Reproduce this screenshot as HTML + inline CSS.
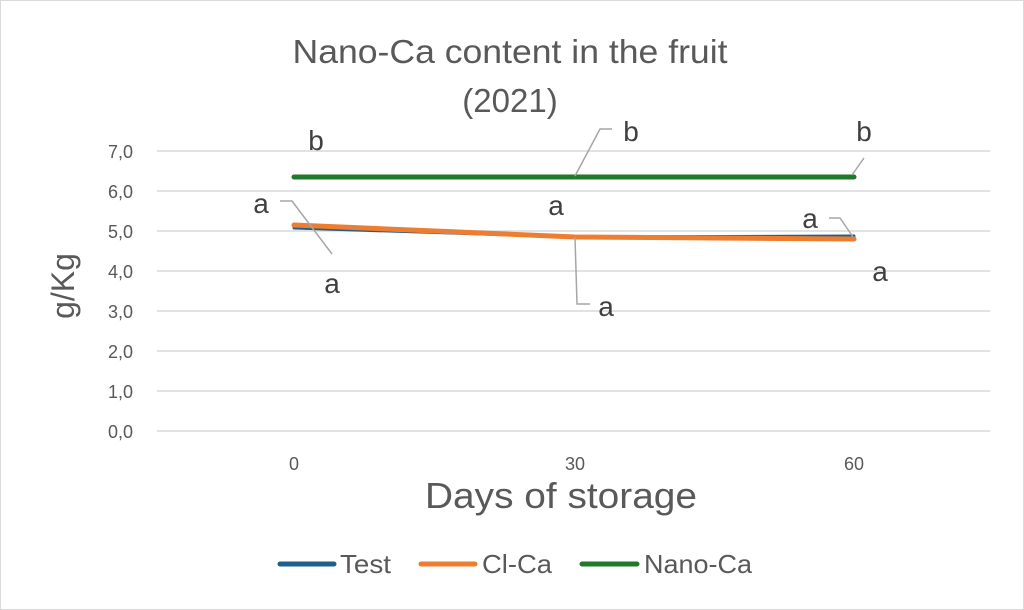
<!DOCTYPE html>
<html><head><meta charset="utf-8"><style>
html,body{margin:0;padding:0;background:#fff;}
svg{display:block;font-family:"Liberation Sans",sans-serif;}
</style></head><body>
<svg width="1024" height="610" viewBox="0 0 1024 610">
<rect x="0.5" y="0.5" width="1023" height="609" fill="#fff" stroke="#d9d9d9"/>
<text x="510" y="63" font-size="33" fill="#595959" text-anchor="middle" textLength="435" lengthAdjust="spacingAndGlyphs">Nano-Ca content in the fruit</text>
<text x="510" y="112" font-size="33" fill="#595959" text-anchor="middle">(2021)</text>
<g stroke="#d9d9d9" stroke-width="1.5">
<line x1="157" x2="990" y1="151" y2="151"/><line x1="157" x2="990" y1="191" y2="191"/>
<line x1="157" x2="990" y1="231" y2="231"/><line x1="157" x2="990" y1="271" y2="271"/>
<line x1="157" x2="990" y1="311" y2="311"/><line x1="157" x2="990" y1="351" y2="351"/>
<line x1="157" x2="990" y1="391" y2="391"/><line x1="157" x2="990" y1="431" y2="431"/>
</g>
<g font-size="18" fill="#595959" text-anchor="end">
<text x="133" y="158">7,0</text><text x="133" y="198">6,0</text><text x="133" y="238">5,0</text>
<text x="133" y="278">4,0</text><text x="133" y="318">3,0</text><text x="133" y="358">2,0</text>
<text x="133" y="398">1,0</text><text x="133" y="438">0,0</text>
</g>
<g font-size="18" fill="#595959" text-anchor="middle">
<text x="294" y="470">0</text><text x="575" y="470">30</text><text x="854" y="470">60</text>
</g>
<text x="561" y="508" font-size="36" fill="#595959" text-anchor="middle" textLength="272" lengthAdjust="spacingAndGlyphs">Days of storage</text>
<text transform="translate(74,286) rotate(-90)" font-size="32" fill="#595959" text-anchor="middle">g/Kg</text>
<polyline points="294,177 854,177" fill="none" stroke="#217a2b" stroke-width="5" stroke-linecap="round"/>
<polyline points="294,228 575,237 854,236" fill="none" stroke="#1f5f8b" stroke-width="3" stroke-linecap="round"/>
<polyline points="294,225 575,237 854,239" fill="none" stroke="#ed7d31" stroke-width="5" stroke-linecap="round"/>
<g stroke="#a6a6a6" stroke-width="1.5" fill="none">
<polyline points="280,201 292,201 332,254"/>
<polyline points="575,176 600,129 612,129"/>
<polyline points="575,237 577,304 590,304"/>
<polyline points="852,175 864,158"/>
<polyline points="829,218 840,218 853,237"/>
</g>
<g font-size="28" fill="#404040" text-anchor="middle">
<text x="316" y="150">b</text><text x="631" y="141">b</text><text x="864" y="141">b</text>
<text x="261" y="213">a</text><text x="556" y="215">a</text><text x="810" y="228">a</text>
<text x="332" y="293">a</text><text x="606" y="316">a</text><text x="880" y="281">a</text>
</g>
<g font-size="26" fill="#595959">
<line x1="280" x2="334" y1="564" y2="564" stroke="#1f5f8b" stroke-width="5" stroke-linecap="round"/>
<text x="340" y="573" textLength="51" lengthAdjust="spacingAndGlyphs">Test</text>
<line x1="421" x2="475" y1="564" y2="564" stroke="#ed7d31" stroke-width="5" stroke-linecap="round"/>
<text x="482" y="573" textLength="70" lengthAdjust="spacingAndGlyphs">Cl-Ca</text>
<line x1="582" x2="637" y1="564" y2="564" stroke="#217a2b" stroke-width="5" stroke-linecap="round"/>
<text x="644" y="573" textLength="108" lengthAdjust="spacingAndGlyphs">Nano-Ca</text>
</g>
</svg>
</body></html>
